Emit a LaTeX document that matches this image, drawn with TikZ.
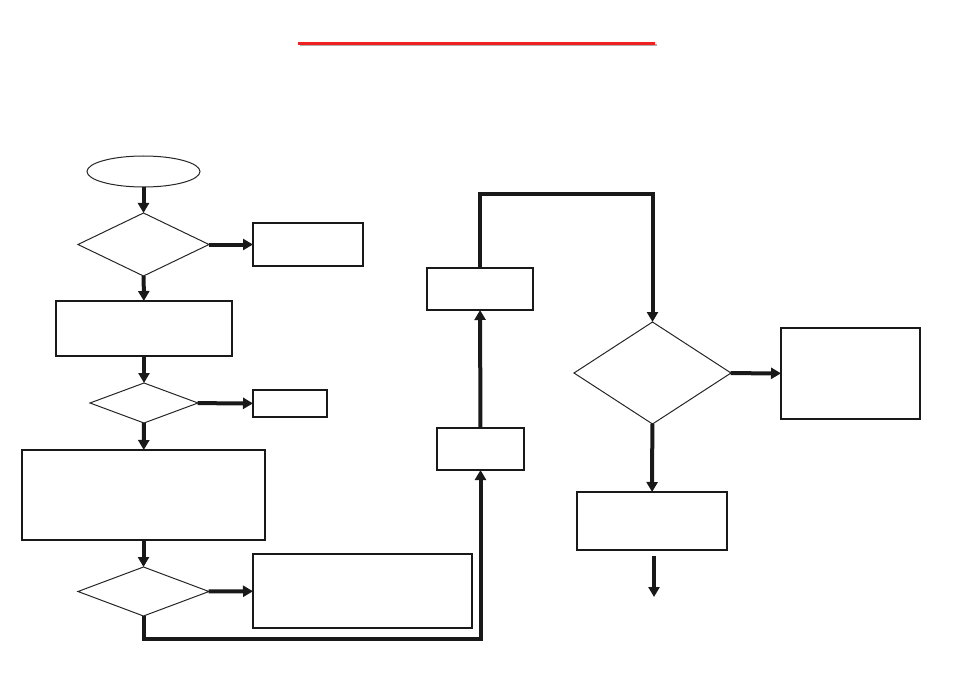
\documentclass[tikz,border=0pt]{standalone}
\usetikzlibrary{shapes.geometric,arrows.meta}
\definecolor{redline}{RGB}{240,32,32}
\definecolor{shadowgray}{RGB}{175,175,175}
\begin{document}
\begin{tikzpicture}[x=1pt,y=-1pt,
  box/.style={draw=black!90,line width=1.2pt,rectangle,inner sep=0pt,outer sep=0pt},
  dia/.style={draw=black!85,line width=1pt,diamond,inner sep=0pt,outer sep=0pt},
  oval/.style={draw=black!85,line width=1pt,ellipse,inner sep=0pt,outer sep=0pt},
  flow/.style={draw=black!90,line width=4pt,-{Triangle[length=10pt,width=11pt]}},
]
\useasboundingbox (0,0) rectangle (954,674);
% title rule
\coordinate (rA) at (298,44);
\coordinate (rB) at (655,44);
\draw[shadowgray,line width=2pt] ([shift={(2,1.5)}]rA) -- ([shift={(2,1.5)}]rB);
\draw[redline,line width=3pt] (rA) -- (rB);

% left column
\node[oval,minimum width=113pt,minimum height=31pt] (start) at (143.5,171.5) {};
\node[dia,minimum width=131pt,minimum height=63pt] (d1) at (143.5,244.5) {};
\node[box,minimum width=110pt,minimum height=43pt] (b1) at (308,244.5) {};
\node[box,minimum width=176pt,minimum height=55pt] (b2) at (144,328.5) {};
\node[dia,minimum width=108pt,minimum height=40pt] (d2) at (144,403) {};
\node[box,minimum width=74pt,minimum height=27pt] (b3) at (290,403.5) {};
\node[box,minimum width=243pt,minimum height=90pt] (b4) at (143.5,495) {};
\node[dia,minimum width=131pt,minimum height=49pt] (d3) at (143.5,591.5) {};
\node[box,minimum width=219pt,minimum height=74pt] (b5) at (362.5,591) {};

% middle column
\node[box,minimum width=87pt,minimum height=42pt] (b6) at (480.5,449) {};
\node[box,minimum width=106pt,minimum height=42pt] (b7) at (480,289) {};

% right column
\node[dia,minimum width=157pt,minimum height=102pt] (d4) at (652.5,373) {};
\node[box,minimum width=139pt,minimum height=91pt] (b8) at (850.5,373.5) {};
\node[box,minimum width=150pt,minimum height=58pt] (b9) at (652,521) {};

\coordinate (loopA) at (143.5,639);
\coordinate (loopB) at (480.5,639);
\coordinate (topA) at (480,194);
\coordinate (topB) at (652.5,194);
\coordinate (endA) at (654,556);
\coordinate (endB) at (654,597);

% connectors
\draw[flow] (start) -- (d1);
\draw[flow] (d1) -- (b1);
\draw[flow] (d1) -- (b2);
\draw[flow] (b2) -- (d2);
\draw[flow] (d2) -- (b3);
\draw[flow] (d2) -- (b4);
\draw[flow] (b4) -- (d3);
\draw[flow] (d3) -- (b5);
\draw[flow,line join=miter] (d3.south) -- (loopA) -- (loopB) -- (b6.south);
\draw[flow] (b6) -- (b7);
\draw[flow,line join=miter] (b7.north) -- (topA) -- (topB) -- (d4.north);
\draw[flow] (d4) -- (b8);
\draw[flow] (d4) -- (b9);
\draw[flow] (endA) -- (endB);
\end{tikzpicture}
\end{document}
